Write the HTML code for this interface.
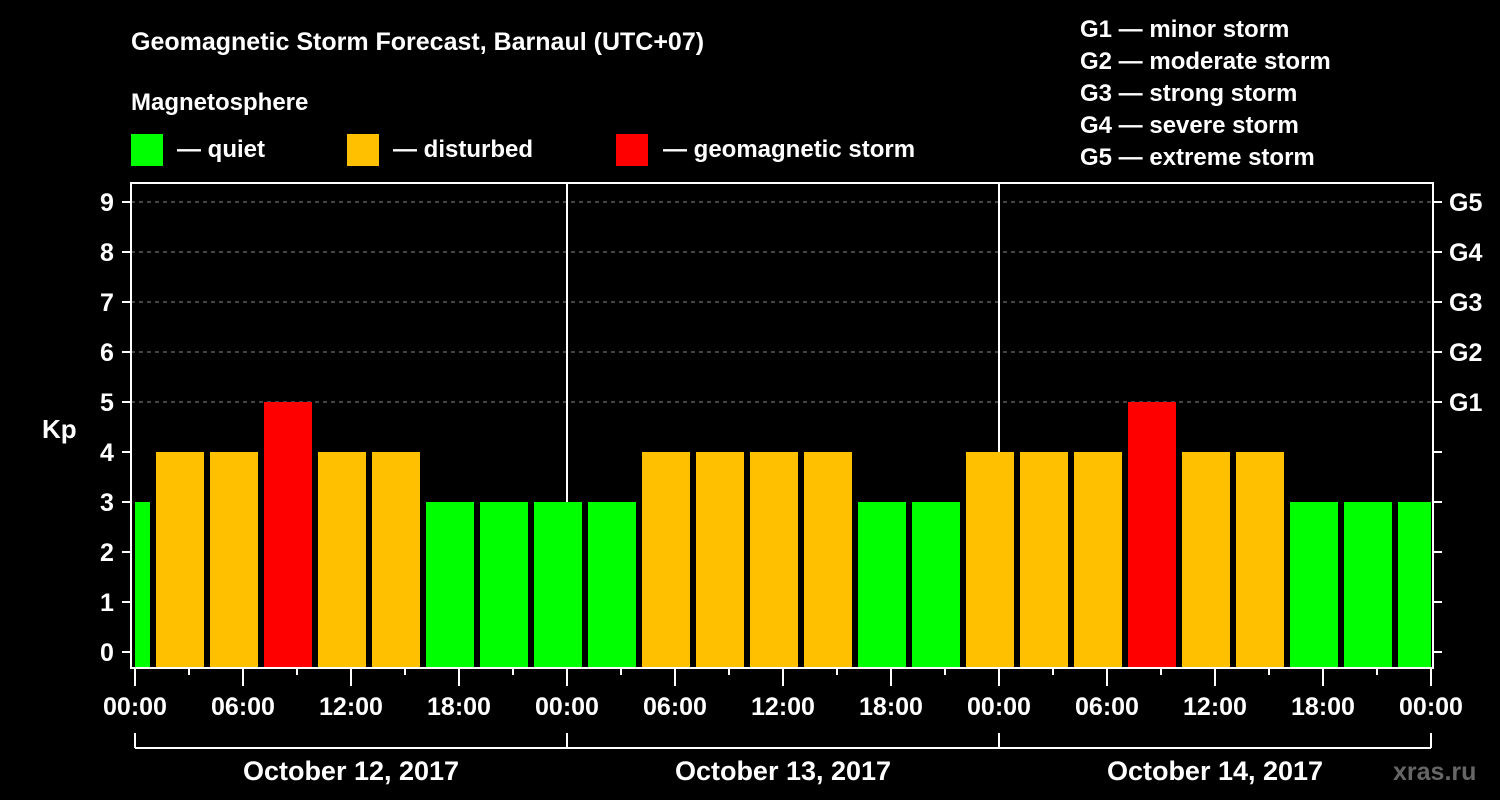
<!DOCTYPE html>
<html><head><meta charset="utf-8"><style>
html,body{margin:0;padding:0;background:#000;}
svg{display:block;font-family:"Liberation Sans",Arial,sans-serif;font-weight:bold;}
</style></head><body>
<svg id="c" width="1500" height="800" viewBox="0 0 1500 800">
<text x="131" y="50" fill="#fff" font-size="25">Geomagnetic Storm Forecast, Barnaul (UTC+07)</text>
<text x="131" y="110" fill="#fff" font-size="24">Magnetosphere</text>
<g>
<rect x="131" y="134" width="32" height="32" fill="#00ff00"/>
<text x="177" y="157" fill="#fff" font-size="24">— quiet</text>
<rect x="347" y="134" width="32" height="32" fill="#ffc000"/>
<text x="393" y="157" fill="#fff" font-size="24">— disturbed</text>
<rect x="616" y="134" width="32" height="32" fill="#ff0000"/>
<text x="663" y="157" fill="#fff" font-size="24">— geomagnetic storm</text>
</g>
<g fill="#fff" font-size="24">
<text x="1080" y="37">G1 — minor storm</text>
<text x="1080" y="69">G2 — moderate storm</text>
<text x="1080" y="101">G3 — strong storm</text>
<text x="1080" y="133">G4 — severe storm</text>
<text x="1080" y="165">G5 — extreme storm</text>
</g>
<text x="42" y="438" fill="#fff" font-size="26">Kp</text>
<g id="plot"></g>
<text x="1393" y="780" fill="#666" font-size="25">xras.ru</text>
</svg>
<script>
const values=[3,4,4,5,4,4,3,3,3,3,4,4,4,4,3,3,4,4,4,5,4,4,3,3,3];
const yTicks=[0,1,2,3,4,5,6,7,8,9];
const gLabels=["G1","G2","G3","G4","G5"];
const gLevels=[5,6,7,8,9];
const xTickLabels=["00:00","06:00","12:00","18:00","00:00","06:00","12:00","18:00","00:00","06:00","12:00","18:00","00:00"];
const dayLabels=["October 12, 2017","October 13, 2017","October 14, 2017"];
const NS="http://www.w3.org/2000/svg";
const L=131,R=1433,T=183,B=668;
const x=h=>135+18*h;
const y=v=>652-50*v;
const g=document.getElementById('plot');
function mk(t,a,p){const e=document.createElementNS(NS,t);for(const k in a)e.setAttribute(k,a[k]);(p||g).appendChild(e);return e;}
// grid
gLevels.forEach(v=>{const e=mk('line',{x1:L,x2:R,y1:y(v),y2:y(v),stroke:'#888','stroke-dasharray':'4,4','stroke-width':1});

});
// day separators
[1,2].forEach(d=>{const e=mk('line',{x1:x(24*d),x2:x(24*d),y1:T,y2:B,stroke:'#fff','stroke-width':2});

});
// clip
const cp=mk('clipPath',{id:'cl'});mk('rect',{x:L+4,y:T,width:x(72)-L-4,height:B-T},cp);
const bg=mk('g',{'clip-path':'url(#cl)'});
values.forEach((v,k)=>{const c=-0.5+3*k;const col=v>=5?'#ff0000':v>=4?'#ffc000':'#00ff00';
const e=mk('rect',{x:x(c)-24,y:y(v),width:48,height:B-y(v),fill:col},bg);

});
// frame
const f=mk('rect',{x:L,y:T,width:R-L,height:B-T,fill:'none',stroke:'#fff','stroke-width':2});


// y ticks
yTicks.forEach(v=>{mk('line',{x1:122,x2:L,y1:y(v),y2:y(v),stroke:'#fff','stroke-width':2});
mk('line',{x1:R,x2:1442,y1:y(v),y2:y(v),stroke:'#fff','stroke-width':2});
const t=mk('text',{x:107,y:y(v)+9,fill:'#fff','font-size':25,'text-anchor':'middle'});t.textContent=v;

});
gLevels.forEach((v,i)=>{const t=mk('text',{x:1449,y:y(v)+9,fill:'#fff','font-size':25});t.textContent=gLabels[i];

});
// x ticks
for(let h=0;h<=72;h+=3){const major=h%6===0;mk('line',{x1:x(h),x2:x(h),y1:B,y2:major?686:675,stroke:'#fff','stroke-width':2});}
xTickLabels.forEach((s,i)=>{const t=mk('text',{x:x(6*i),y:715,fill:'#fff','font-size':25,'text-anchor':'middle'});t.textContent=s;

});
// day bracket
mk('line',{x1:x(0),x2:x(72),y1:748,y2:748,stroke:'#fff','stroke-width':2});
for(let d=0;d<=3;d++)mk('line',{x1:x(24*d),x2:x(24*d),y1:733,y2:748,stroke:'#fff','stroke-width':2});
dayLabels.forEach((s,i)=>{const t=mk('text',{x:x(24*i+12),y:780,fill:'#fff','font-size':27,'text-anchor':'middle'});t.textContent=s;

});
</script>
</body></html>
